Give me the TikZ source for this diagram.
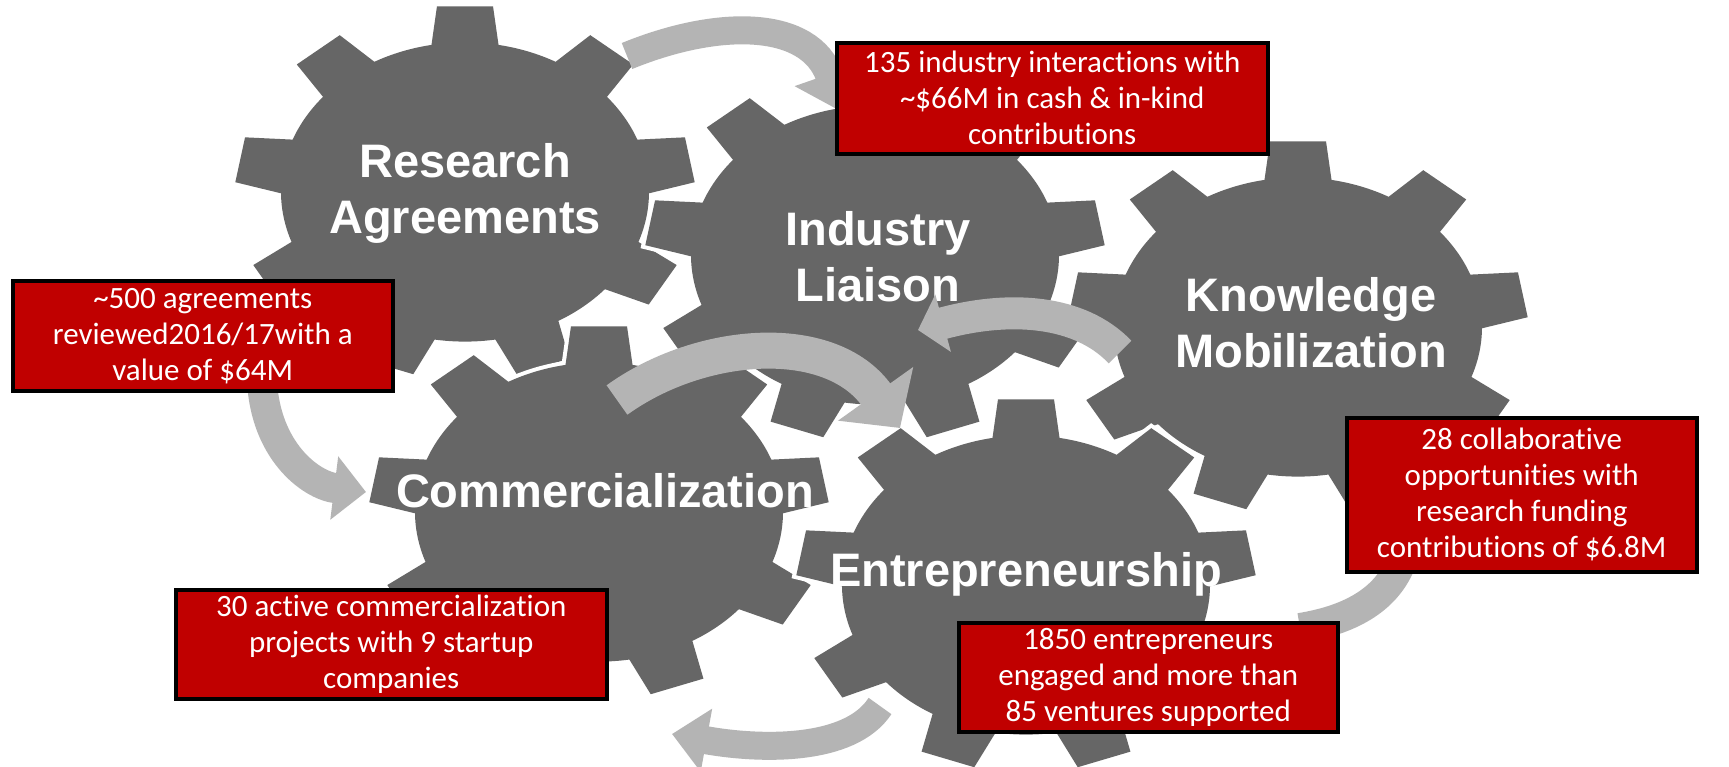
\documentclass[tikz,border=0pt]{standalone}
\usepackage{fontspec}
\setmainfont{Carlito}[Ligatures=NoCommon]
\newfontfamily\gearfont{Liberation Sans}
\usetikzlibrary{arrows.meta}
\definecolor{gearfill}{HTML}{666666}
\definecolor{arrowgray}{HTML}{B4B4B4}
\definecolor{boxred}{HTML}{C00000}
\tikzset{
  gearbody/.style={fill=gearfill, preaction={draw=white, line width=8pt, line join=miter}},
  gearlabel/.style={text=white, font=\gearfont\bfseries\fontsize{47}{56}\selectfont, align=center, inner sep=0pt},
  infobox/.style={draw=black, line width=3.5pt, fill=boxred, text=white,
    font=\fontsize{31}{36}\selectfont, align=center, inner sep=0pt, anchor=north west},
  flow/.style={draw=arrowgray, line width=#1},
  flow/.default=30pt
}
\newcommand\drawgear[3]{%
  \coordinate (#3) at (#1,#2);
  \begin{scope}[shift={(#1,#2)}, xscale=230, yscale=187]
    \path[gearbody] (19.5:0.8)
      \foreach \a in {30,70,...,350} {
        -- (\a-7:1) -- (\a+7:1) -- (\a+10.5:0.8)
        arc[start angle=\a+10.5, delta angle=19, radius=0.8]
      } -- cycle;
  \end{scope}}
\begin{document}
\begin{tikzpicture}[x=1pt, y=-1pt]
\useasboundingbox[fill=white] (0,0) rectangle (1729,766);

% gears (back to front)
\drawgear{465}{192}{g1}
\drawgear{875}{255}{g2}
\drawgear{1298}{327}{g3}
\drawgear{599}{512}{g4}
\drawgear{1026}{585}{g5}

% gear labels
\node[gearlabel] (t1) at (465,193) {Research\\Agreements};
\node[gearlabel] (t2) at (878,257) {Industry\\Liaison};
\node[gearlabel] (t3) at (1311,323) {Knowledge\\Mobilization};
\node[gearlabel] (t4) at (605,491) {Commercialization};
\node[gearlabel] (t5) at (1026,574) {Entrepreneurship};

% arrow end points
\coordinate (a1s) at (627,56);   \coordinate (a1e) at (842,112);
\coordinate (a2s) at (262,380);  \coordinate (a2e) at (366,492);
\coordinate (a3s) at (617,400);  \coordinate (a3e) at (900,428);
\coordinate (a4s) at (1120,352); \coordinate (a4e) at (918,330);
\coordinate (a5s) at (1400,565); \coordinate (a5e) at (1300,628);
\coordinate (a6s) at (880,706);  \coordinate (a6e) at (672,734);

\draw[flow=28pt, -{Triangle[length=40pt,width=70pt]}] (a1s) .. controls (720,18) and (810,20) .. (a1e);
\draw[flow=30pt, -{Triangle[length=32pt,width=62pt]}] (a2s) .. controls (265,450) and (310,485) .. (a2e);
\draw[flow=36pt, -{Triangle[length=42pt,width=90pt]}] (a3s) .. controls (700,340) and (830,330) .. (a3e);
\draw[flow=32pt, -{Triangle[length=26pt,width=58pt]}] (a4s) .. controls (1080,310) and (1010,305) .. (a4e);
\draw[flow=30pt] (a5s) .. controls (1385,600) and (1350,620) .. (a5e);
\draw[flow=28pt, -{Triangle[length=35pt,width=62pt]}] (a6s) .. controls (850,752) and (760,750) .. (a6e);

% info boxes
\node[infobox, minimum width=431pt, minimum height=111pt] (bA) at (835,41)
  {135 industry interactions with\\\textasciitilde\$66M in cash \& in-kind\\contributions};
\node[infobox, minimum width=380pt, minimum height=110pt] (bB) at (11,279)
  {\textasciitilde500 agreements\\reviewed2016/17with a\\value of \$64M};
\node[infobox, minimum width=350pt, minimum height=154pt] (bC) at (1345,416)
  {28 collaborative\\opportunities with\\research funding\\contributions of \$6.8M};
\node[infobox, minimum width=431pt, minimum height=109pt] (bD) at (174,588)
  {30 active commercialization\\projects with 9 startup\\companies};
\node[infobox, minimum width=379pt, minimum height=109pt] (bE) at (957,621)
  {1850 entrepreneurs\\engaged and more than\\85 ventures supported};
\end{tikzpicture}
\end{document}
